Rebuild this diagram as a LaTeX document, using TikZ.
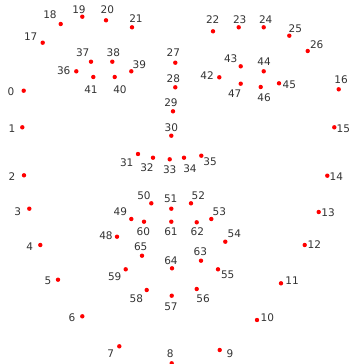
\documentclass[tikz,border=0pt]{standalone}
\usepackage{fontspec}
\setmainfont{DejaVu Sans}
\definecolor{lbl}{HTML}{333333}
\definecolor{dotred}{HTML}{FF0000}
\begin{document}
\begin{tikzpicture}[x=1pt,y=-1pt,
  dot/.style={circle,fill=dotred,inner sep=0pt,minimum size=4.4pt},
  lab/.style={text=lbl,font=\fontsize{10.5}{12}\selectfont,inner sep=0pt}]
\useasboundingbox (0,0) rectangle (351,364);
\foreach \i/\dx/\dy/\lx/\ly in {
0/23.7/90.7/11/91.7, 1/22.3/127.3/12/128.3, 2/24/175.3/12/176.3,
3/29.3/208.7/17.7/212, 4/40.3/245/29.7/247, 5/58/279.7/48/281,
6/82.3/316.3/72/317.7, 7/119.3/346.3/110.7/354, 8/171.7/363.3/170.3/354,
9/219.7/350/230/354, 10/257/320/267.3/317.7, 11/281/283.3/292/280.7,
12/304.7/245/314.3/245, 13/318.7/212/328/212.7, 14/327.3/175.7/336.3/176.7,
15/334.3/127.3/343.3/128.3, 16/338.7/89.3/341/80, 17/42.7/42.7/30.7/36.7,
18/60.7/24/50/14.7, 19/82.3/16.7/79/9.3, 20/106/20.3/107.3/9.3,
21/132/27.3/136/18.7, 22/213/31.3/212.7/19.3, 23/238.7/27.3/239.7/19.3,
24/263.7/27.3/265.7/19.3, 25/289.3/35.7/295.3/28.3, 26/307.7/51/316.7/44.3,
27/175.3/62.7/173.3/52.7, 28/175.3/87.3/173.3/78.3, 29/173/111.3/171/102.7,
30/171.3/135.7/171.3/127.3, 31/138/154/126.7/162.3, 32/153/157.7/147/167.3,
33/169.7/159.3/169.7/169.3, 34/184/157.7/190/168.7, 35/201.3/155.7/210/162,
36/76.3/71.3/63.7/70.7, 37/91/61.7/82.7/52.7, 38/112.3/61.7/113.3/52.7,
39/131.3/71.3/139.3/64.3, 40/114.7/77/120/89.3, 41/93.3/77/91/89.3,
42/219.3/77.3/207/75.3, 43/240.7/66.3/230.7/58.7, 44/263.7/71.3/264/61.3,
45/279/83.3/289.3/84.3, 46/260.7/87/264/97.3, 47/240.7/83.7/234.7/93.3,
48/117/236.7/106/236, 49/131.3/219/120.3/211.7, 50/151.3/203.3/144/195.7,
51/171.3/208.7/170.7/198.7, 52/191/203.3/198.3/195.7, 53/211.3/219/219.3/212,
54/225.3/241.7/234.3/233.3, 55/218/269.3/227.7/274.7, 56/196.7/289/203/299,
57/171.7/295.7/171/306.7, 58/146.7/290/136.3/299, 59/125.7/269.3/114.7/277,
60/144/221.7/143.3/231.3, 61/171.3/221.7/171/231.3, 62/196.7/222.3/197.3/231.3,
63/201/260.7/200.3/252, 64/172/268.3/171/260.7, 65/142/255.7/140.7/247}{
  \node[dot] (p\i) at (\dx,\dy) {};
  \node[lab] (l\i) at (\lx,\ly) {\i};
}
\end{tikzpicture}
\end{document}
